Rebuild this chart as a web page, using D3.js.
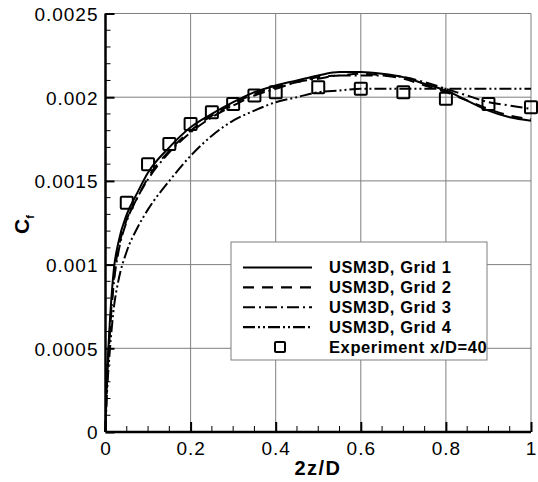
<!DOCTYPE html>
<html>
<head>
<meta charset="utf-8">
<script src="https://cdn.jsdelivr.net/npm/d3@7"></script>
<style>
  body { margin: 0; background: #fff; }
  svg { display: block; font-family: "Liberation Sans", Arial, sans-serif; }
</style>
</head>
<body>
<svg id="chart"></svg>
<script>
// spanwise stations (2z/D) shared by the computed curves
const zPos = [0, 0.002, 0.005, 0.01, 0.02, 0.03, 0.05, 0.075, 0.1, 0.15, 0.2, 0.25, 0.3, 0.35,
  0.4, 0.45, 0.5, 0.55, 0.6, 0.65, 0.7, 0.75, 0.8, 0.85, 0.9, 0.95, 1.0];

const grid1 = [0, 0.00025, 0.00042, 0.00065, 0.00098, 0.00113, 0.0013, 0.00143, 0.00155, 0.0017,
  0.00182, 0.0019, 0.00197, 0.00203, 0.00207, 0.0021, 0.00213, 0.00215, 0.00215, 0.00214,
  0.00212, 0.00208, 0.00204, 0.00198, 0.00192, 0.00188, 0.00186];
const grid2 = [0, 0.00022, 0.00038, 0.0006, 0.00093, 0.00109, 0.00127, 0.0014, 0.00152, 0.00168,
  0.0018, 0.00189, 0.00196, 0.00202, 0.00206, 0.00209, 0.00212, 0.00213, 0.00214, 0.00213,
  0.00211, 0.00207, 0.00203, 0.00198, 0.00193, 0.00189, 0.00187];
const grid3 = [0, 0.0002, 0.00036, 0.00058, 0.0009, 0.00107, 0.00126, 0.0014, 0.00151, 0.00167,
  0.00179, 0.00188, 0.00195, 0.00201, 0.00205, 0.00209, 0.00211, 0.00213, 0.00213, 0.00213,
  0.00212, 0.00209, 0.00205, 0.00201, 0.00197, 0.00195, 0.00193];
const grid4 = [0, 0.00015, 0.0003, 0.00048, 0.00075, 0.0009, 0.00108, 0.00122, 0.00133, 0.0015,
  0.00165, 0.00177, 0.00186, 0.00192, 0.00197, 0.002, 0.00203, 0.00204, 0.00205, 0.00205,
  0.00205, 0.00205, 0.00205, 0.00205, 0.00205, 0.00205, 0.00205];

// experiment x/D=40
const expZ = [0.05, 0.1, 0.15, 0.2, 0.25, 0.3, 0.35, 0.4, 0.5, 0.6, 0.7, 0.8, 0.9, 1.0];
const expCf = [0.00137, 0.0016, 0.00172, 0.00184, 0.00191, 0.00196, 0.00201, 0.00203, 0.00206,
  0.00205, 0.00203, 0.00199, 0.00196, 0.00194];

const seriesNames = ["USM3D, Grid 1", "USM3D, Grid 2", "USM3D, Grid 3", "USM3D, Grid 4"];
const expName = "Experiment x/D=40";
const xTicks = [0, 0.2, 0.4, 0.6, 0.8, 1];
const yTicks = [0, 0.0005, 0.001, 0.0015, 0.002, 0.0025];
const yTickLabels = ["0", "0.0005", "0.001", "0.0015", "0.002", "0.0025"];

const W = 538, H = 482;
const svg = d3.select("#chart").attr("width", W).attr("height", H);

const x = d3.scaleLinear().domain([0, 1]).range([105.5, 531]);
const y = d3.scaleLinear().domain([0, 0.0025]).range([432, 13.5]);

// grid lines
svg.append("g").selectAll("line")
  .data(xTicks.slice(1))
  .join("line")
  .attr("x1", d => x(d)).attr("x2", d => x(d))
  .attr("y1", y(0)).attr("y2", y(0.0025))
  .attr("stroke", "#7f7f7f").attr("stroke-width", 1);
svg.append("g").selectAll("line")
  .data(yTicks.slice(1))
  .join("line")
  .attr("x1", x(0)).attr("x2", x(1))
  .attr("y1", d => y(d)).attr("y2", d => y(d))
  .attr("stroke", "#7f7f7f").attr("stroke-width", 1);

// curves
const dashes = [null, "11,8", "12,4,2,4", "12,3,2,3,2,3"];
const curves = [grid1, grid2, grid3, grid4];
const line = d3.line()
  .x(d => x(d[0]))
  .y(d => y(d[1]))
  .curve(d3.curveMonotoneX);

curves.forEach((vals, i) => {
  svg.append("path")
    .datum(zPos.map((z, j) => [z, vals[j]]))
    .attr("d", line)
    .attr("fill", "none")
    .attr("stroke", "#000")
    .attr("stroke-width", 2)
    .attr("stroke-dasharray", dashes[i]);
});

// experiment symbols
const sq = 12;
svg.append("g").selectAll("rect")
  .data(expZ.map((z, i) => [z, expCf[i]]))
  .join("rect")
  .attr("x", d => x(d[0]) - sq / 2)
  .attr("y", d => y(d[1]) - sq / 2)
  .attr("width", sq).attr("height", sq)
  .attr("rx", 1)
  .attr("fill", "none")
  .attr("stroke", "#000")
  .attr("stroke-width", 2);

// axes
const xAxis = d3.axisBottom(x)
  .tickValues(xTicks)
  .tickSize(-10)
  .tickFormat(d3.format("~g"));
const gx = svg.append("g")
  .attr("transform", `translate(0,${y(0)})`)
  .call(xAxis);
gx.select(".domain").attr("stroke-width", 2.5).attr("d", `M${x(0)},0H${x(1)}`);
gx.selectAll(".tick line").attr("stroke-width", 2);
gx.selectAll("text")
  .attr("y", 10)
  .attr("dy", "0.71em")
  .style("font-size", "19px")
  .style("letter-spacing", "1px")
  .style("font-family", "'Liberation Sans', Arial, sans-serif");

const xMinor = d3.range(0.05, 1, 0.05).filter(v => Math.abs(v * 5 - Math.round(v * 5)) > 1e-6);
svg.append("g").selectAll("line")
  .data(xMinor)
  .join("line")
  .attr("x1", d => x(d)).attr("x2", d => x(d))
  .attr("y1", y(0)).attr("y2", y(0) - 6)
  .attr("stroke", "#000").attr("stroke-width", 1);

const yAxis = d3.axisLeft(y)
  .tickValues(yTicks)
  .tickSize(-9)
  .tickFormat((d, i) => yTickLabels[i]);
const gy = svg.append("g")
  .attr("transform", `translate(${x(0)},0)`)
  .call(yAxis);
gy.select(".domain").attr("stroke-width", 2.5).attr("d", `M0,${y(0)}V${y(0.0025)}`);
gy.selectAll(".tick line").attr("stroke-width", 2);
gy.selectAll("text")
  .attr("x", -7)
  .attr("dy", "0.36em")
  .style("font-size", "19px")
  .style("letter-spacing", "1px")
  .style("font-family", "'Liberation Sans', Arial, sans-serif");

const yMinor = d3.range(0.0001, 0.0025, 0.0001)
  .filter(v => Math.abs(v / 0.0005 - Math.round(v / 0.0005)) > 1e-6);
svg.append("g").selectAll("line")
  .data(yMinor)
  .join("line")
  .attr("x1", x(0)).attr("x2", x(0) + 5)
  .attr("y1", d => y(d)).attr("y2", d => y(d))
  .attr("stroke", "#000").attr("stroke-width", 1);

// axis titles
svg.append("text")
  .attr("x", 318).attr("y", 475)
  .attr("text-anchor", "middle")
  .style("font-size", "20px").style("font-weight", "bold")
  .style("letter-spacing", "1.5px")
  .text("2z/D");

const yt = svg.append("text")
  .attr("transform", "translate(29,234) rotate(-90)")
  .style("font-size", "21px").style("font-weight", "bold");
yt.append("tspan").text("C");
yt.append("tspan").attr("dy", 5).style("font-size", "11px").text("f");

// legend
const lg = svg.append("g");
lg.append("rect")
  .attr("x", 231).attr("y", 242)
  .attr("width", 256).attr("height", 118)
  .attr("fill", "#fff")
  .attr("stroke", "#7f7f7f").attr("stroke-width", 1);

const rowY = d3.scaleLinear().domain([0, 4]).range([267.5, 347]);
seriesNames.forEach((name, i) => {
  lg.append("line")
    .attr("x1", 243).attr("x2", 312)
    .attr("y1", rowY(i)).attr("y2", rowY(i))
    .attr("stroke", "#000").attr("stroke-width", 2.2)
    .attr("stroke-dasharray", dashes[i]);
  lg.append("text")
    .attr("x", 329).attr("y", rowY(i)).attr("dy", "0.36em")
    .style("font-size", "16.5px").style("font-weight", "bold")
    .style("letter-spacing", "0.6px")
    .text(name);
});
lg.append("rect")
  .attr("x", 280 - 5).attr("y", rowY(4) - 5)
  .attr("width", 10).attr("height", 10).attr("rx", 1)
  .attr("fill", "none").attr("stroke", "#000").attr("stroke-width", 2);
lg.append("text")
  .attr("x", 329).attr("y", rowY(4)).attr("dy", "0.36em")
  .style("font-size", "16.5px").style("font-weight", "bold")
  .style("letter-spacing", "0.6px")
  .text(expName);
</script>
</body>
</html>
